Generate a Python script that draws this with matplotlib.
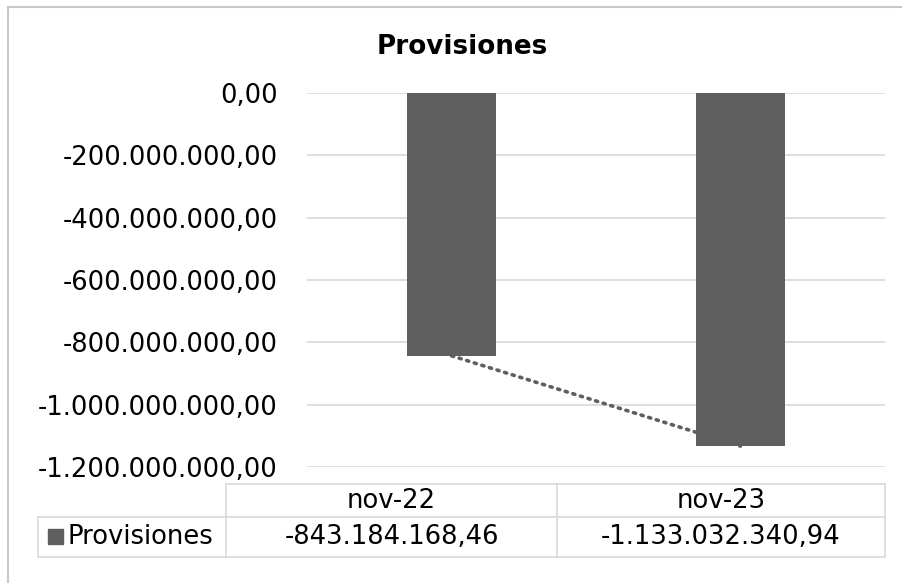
import matplotlib.pyplot as plt
from matplotlib.lines import Line2D
from matplotlib.patches import Rectangle

# Данные
categories = ["nov-22", "nov-23"]
values = [-843184168.46, -1133032340.94]
series_name = "Provisiones"
yticks = [0, -200e6, -400e6, -600e6, -800e6, -1000e6, -1200e6]

BAR_COLOR = "#5f5f5f"
GRID_COLOR = "#d9d9d9"
FS = 18.6
W, H = 902, 583


def fmt(v):
    # формат 1.234.567,89
    s = f"{v:,.2f}"
    return s.replace(",", "X").replace(".", ",").replace("X", ".")


def fx(px):
    return px / W


def fy(py):
    return 1 - py / H


fig = plt.figure(figsize=(W / 100, H / 100), dpi=100)
ax = fig.add_axes([fx(307), fy(467), fx(885) - fx(307), fy(93) - fy(467)])

x = list(range(len(categories)))
ax.bar(x, values, width=0.31, color=BAR_COLOR, zorder=3)
# линия тренда
ax.plot(x, values, linestyle=(0, (0.6, 1.6)), color=BAR_COLOR, linewidth=2.6,
        dash_capstyle="round", zorder=2)

ax.set_xlim(-0.5, len(categories) - 0.5)
ax.set_ylim(yticks[-1], yticks[0])
ax.set_yticks(yticks)
ax.set_yticklabels([fmt(t) for t in yticks], fontsize=FS)
ax.tick_params(axis="y", length=0, pad=21)
ax.set_xticks([])
ax.grid(axis="y", color=GRID_COLOR, linewidth=1.2, zorder=0)
for s in ax.spines.values():
    s.set_visible(False)

fig.text(fx(462), fy(47), series_name, ha="center", va="center",
         fontsize=18.9, fontweight="bold")

# таблица данных
lw = 1.2
lines = [
    ((226, 885), (484, 484)),
    ((38, 885), (517, 517)),
    ((38, 885), (557, 557)),
    ((226, 226), (484, 557)),
    ((557, 557), (484, 557)),
    ((885, 885), (484, 557)),
    ((38, 38), (517, 557)),
]
for (x0, x1), (y0, y1) in lines:
    fig.add_artist(Line2D([fx(x0), fx(x1)], [fy(y0), fy(y1)], color=GRID_COLOR, linewidth=lw))

col_centers = [391.5, 721]
for c, cat, v in zip(col_centers, categories, values):
    fig.text(fx(c), fy(501), cat, ha="center", va="center", fontsize=FS)
    fig.text(fx(c), fy(537), fmt(v), ha="center", va="center", fontsize=FS)

fig.add_artist(Rectangle((fx(48), fy(544)), fx(15), 15 / H, color=BAR_COLOR))
fig.text(fx(67), fy(537), series_name, ha="left", va="center", fontsize=FS)

# рамка диаграммы
fig.add_artist(Line2D([fx(8), fx(8)], [fy(7), 0], color="#c8c8c8", linewidth=1.5))
fig.add_artist(Line2D([fx(8), 1], [fy(7), fy(7)], color="#c8c8c8", linewidth=1.5))

fig.savefig("out.png", dpi=100)
